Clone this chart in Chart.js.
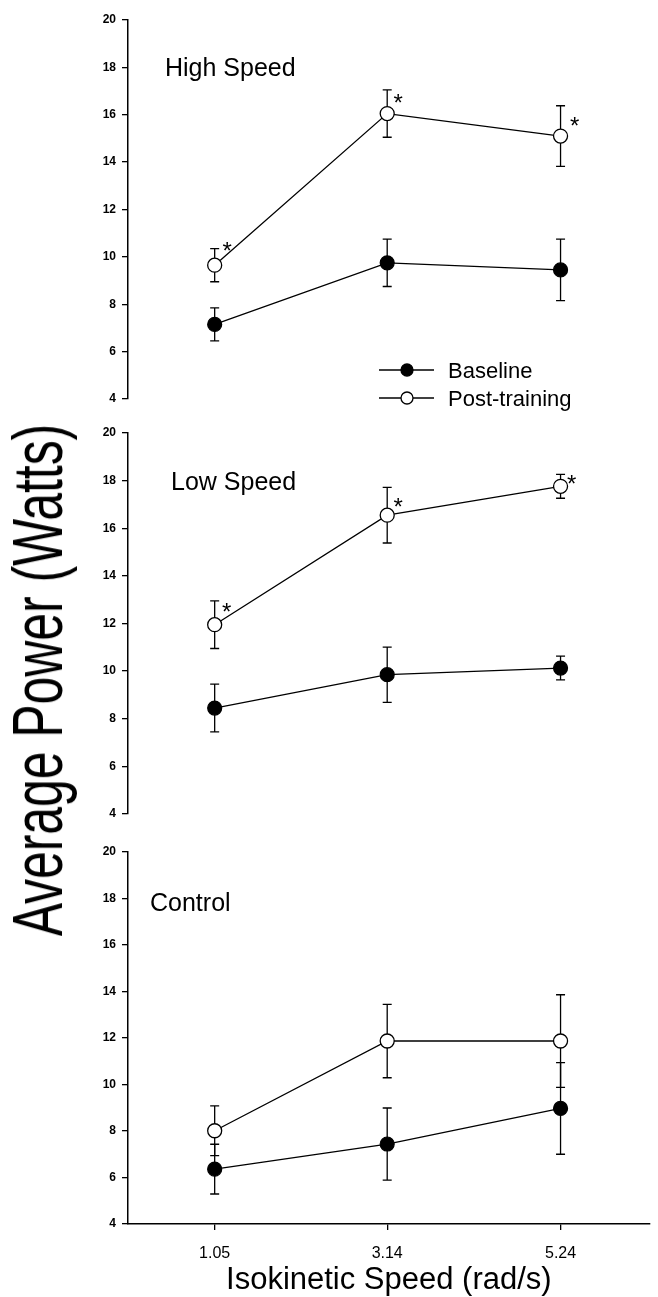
<!DOCTYPE html>
<html><head><meta charset="utf-8">
<script src="https://cdn.jsdelivr.net/npm/chart.js@4.4.1/dist/chart.umd.min.js"></script>
<style>
html,body{margin:0;padding:0;background:#fff;}
body{width:658px;height:1297px;position:relative;overflow:hidden;}
canvas{position:absolute;left:0;}
#ytitle{position:absolute;left:38px;top:680px;transform:translate(-50%,-50%) rotate(-90deg) scaleX(0.712);font-family:"Liberation Sans",Arial,sans-serif;font-size:70px;white-space:nowrap;color:#000;line-height:1;}
</style></head><body>
<canvas id="c1" width="658" height="415" style="top:0;width:658px;height:415px"></canvas>
<canvas id="c2" width="658" height="415" style="top:415px;width:658px;height:415px"></canvas>
<canvas id="c3" width="658" height="467" style="top:830px;width:658px;height:467px"></canvas>
<div id="ytitle">Average Power (Watts)</div>
<script>
// ---- data ----
const speeds = [1.05, 3.14, 5.24];
const xTickLabels = ['1.05', '3.14', '5.24'];
const seriesNames = ['Baseline', 'Post-training'];
const panelNames = ['High Speed', 'Low Speed', 'Control'];

const highBase = [7.15, 9.75, 9.45];
const highBaseErr = [0.7, 1.0, 1.3];
const highPost = [9.65, 16.05, 15.1];
const highPostErr = [0.7, 1.0, 1.28];
const highSig = [true, true, true];

const lowBase = [8.45, 9.85, 10.13];
const lowBaseErr = [1.0, 1.16, 0.5];
const lowPost = [11.95, 16.55, 17.76];
const lowPostErr = [1.0, 1.17, 0.5];
const lowSig = [true, true, true];

const ctrlBase = [6.36, 7.44, 8.97];
const ctrlBaseErr = [1.07, 1.55, 1.97];
const ctrlPost = [8.01, 11.87, 11.87];
const ctrlPostErr = [1.07, 1.58, 1.99];
const ctrlSig = [false, false, false];

const yMin = 4, yMax = 20, yStep = 2;
const xMin = 0, xMax = 6.32;

// ---- style ----
const FF = "'Liberation Sans', Arial, Helvetica, sans-serif";
const INK = '#000';

const panelPlugin = {
  id: 'panelExtras',
  beforeDatasetsDraw(chart) {
    const ctx = chart.ctx, ys = chart.scales.y;
    ctx.save();
    ctx.strokeStyle = INK; ctx.lineWidth = 1.3;
    chart.data.datasets.forEach((ds, di) => {
      const meta = chart.getDatasetMeta(di);
      ds.errors.forEach((e, i) => {
        const pt = meta.data[i];
        const v = ds.data[i].y;
        const yt = ys.getPixelForValue(v + e), yb = ys.getPixelForValue(v - e);
        ctx.beginPath();
        ctx.moveTo(pt.x, yt); ctx.lineTo(pt.x, yb);
        ctx.moveTo(pt.x - 4.5, yt); ctx.lineTo(pt.x + 4.5, yt);
        ctx.moveTo(pt.x - 4.5, yb); ctx.lineTo(pt.x + 4.5, yb);
        ctx.stroke();
      });
    });
    ctx.restore();
  },
  afterDatasetsDraw(chart) {
    const o = chart.options.plugins.panelExtras;
    const ctx = chart.ctx;
    ctx.save();
    ctx.fillStyle = INK;
    ctx.font = '25px ' + FF;
    ctx.textAlign = 'left'; ctx.textBaseline = 'alphabetic';
    ctx.fillText(o.label, o.labelX, o.labelY - o.top);
    const meta = chart.getDatasetMeta(1);
    ctx.font = '24px ' + FF;
    ctx.textAlign = 'center'; ctx.textBaseline = 'middle';
    o.sig.forEach((s, i) => {
      if (!s) return;
      const pt = meta.data[i];
      const off = o.starOff[i];
      ctx.fillText('*', pt.x + off[0], pt.y + off[1] + 5);
    });
    if (o.legend) {
      const L = o.legend;
      [0, 1].forEach(k => {
        const y = L.rows[k] - o.top;
        ctx.strokeStyle = INK; ctx.lineWidth = 1.5;
        ctx.beginPath(); ctx.moveTo(L.x0, y); ctx.lineTo(L.x1, y); ctx.stroke();
        ctx.beginPath(); ctx.arc(L.xm, y, 6, 0, Math.PI * 2);
        ctx.fillStyle = k === 0 ? INK : '#fff'; ctx.fill();
        ctx.lineWidth = 1.3; ctx.stroke();
        ctx.fillStyle = INK;
        ctx.font = '22px ' + FF;
        ctx.textAlign = 'left'; ctx.textBaseline = 'alphabetic';
        ctx.fillText(seriesNames[k], L.xt, y + 7.8);
      });
    }
    ctx.restore();
  }
};

function makePanel(id, top, base, baseErr, post, postErr, sig, label, labelX, labelY, padTop, padBottom, showX, starOff, legend) {
  const mk = (vals) => speeds.map((x, i) => ({x: x, y: vals[i]}));
  const xScale = {
    type: 'linear', min: xMin, max: xMax, display: showX,
    afterBuildTicks: s => { s.ticks = speeds.map(v => ({value: v})); },
    ticks: {color: INK, font: {family: FF, size: 16}, padding: 14, maxRotation: 0, autoSkip: false,
            callback: v => { const i = speeds.indexOf(v); return i >= 0 ? xTickLabels[i] : ''; }},
    grid: {drawOnChartArea: false, drawTicks: true, tickLength: 6, color: INK, lineWidth: 1.3},
    border: {display: true, color: INK, width: 1.5},
    title: {display: true, text: 'Isokinetic Speed (rad/s)', color: INK,
            font: {family: FF, size: 31, lineHeight: 1}, padding: {top: 0, bottom: 1}}
  };
  if (showX) xScale.afterFit = s => { s.height = 73; };
  return new Chart(document.getElementById(id), {
    type: 'line',
    data: {
      datasets: [
        {label: seriesNames[0], data: mk(base), errors: baseErr, borderColor: INK, borderWidth: 1.3,
         pointRadius: 7, pointBackgroundColor: INK, pointBorderColor: INK, pointBorderWidth: 1.2, tension: 0, fill: false},
        {label: seriesNames[1], data: mk(post), errors: postErr, borderColor: INK, borderWidth: 1.3,
         pointRadius: 7, pointBackgroundColor: '#fff', pointBorderColor: INK, pointBorderWidth: 1.3, tension: 0, fill: false}
      ]
    },
    options: {
      responsive: false, animation: false, devicePixelRatio: 1,
      layout: {padding: {top: padTop, bottom: padBottom, left: 0, right: 6}},
      plugins: {
        legend: {display: false}, tooltip: {enabled: false},
        panelExtras: {top: top, label: label, labelX: labelX, labelY: labelY, sig: sig, starOff: starOff, legend: legend}
      },
      scales: {
        x: xScale,
        y: {
          min: yMin, max: yMax,
          ticks: {stepSize: yStep, color: INK, font: {family: FF, size: 12, weight: 'bold'}, padding: 6},
          grid: {drawOnChartArea: false, drawTicks: true, tickLength: 6, color: INK, lineWidth: 1.3},
          border: {display: true, color: INK, width: 1.5},
          afterFit: s => { s.width = 128; }
        }
      }
    },
    plugins: [panelPlugin]
  });
}

makePanel('c1', 0, highBase, highBaseErr, highPost, highPostErr, highSig, panelNames[0], 165, 75.5, 20, 16, false,
  [[12.5, -18], [11, -14], [14, -14]],
  {x0: 379, x1: 434, xm: 407, xt: 448, rows: [370, 398]});
makePanel('c2', 415, lowBase, lowBaseErr, lowPost, lowPostErr, lowSig, panelNames[1], 171, 490, 18, 16, false,
  [[12, -16], [11, -12], [11, -6]], null);
makePanel('c3', 830, ctrlBase, ctrlBaseErr, ctrlPost, ctrlPostErr, ctrlSig, panelNames[2], 150, 911, 22, 0, true,
  [[0, 0], [0, 0], [0, 0]], null);
</script>
</body></html>
